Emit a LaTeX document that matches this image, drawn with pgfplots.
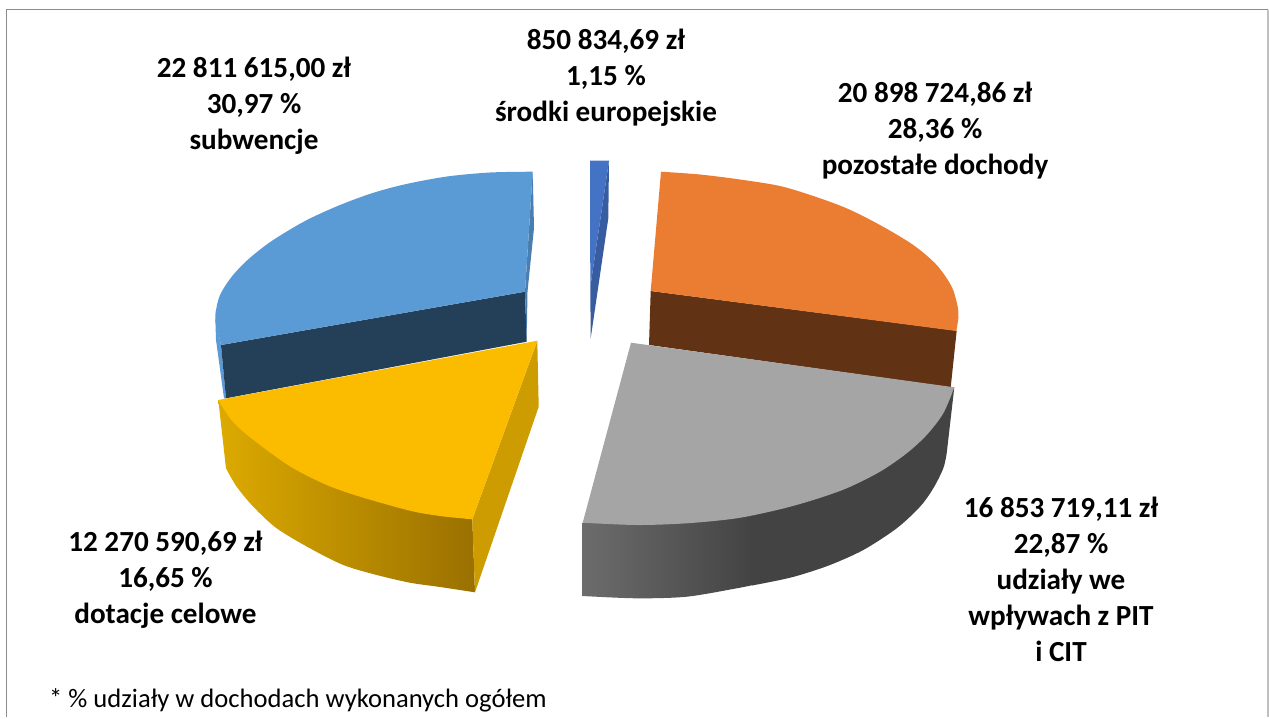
\documentclass[border=0pt]{standalone}
\usepackage{pgfplots}
\pgfplotsset{compat=1.18}
\usepackage{fontspec}
\setmainfont{Carlito}
\definecolor{bluetop}{HTML}{5B9BD5}
\definecolor{blueside}{HTML}{4A7EB0}
\definecolor{navy}{HTML}{243F58}
\definecolor{yeltop}{HTML}{FBBC00}
\definecolor{yelside}{HTML}{CC9C00}
\definecolor{yelL}{HTML}{DCAA00}
\definecolor{yelR}{HTML}{9A7000}
\definecolor{smalltop}{HTML}{4472C4}
\definecolor{smallside}{HTML}{375C9F}
\definecolor{ortop}{HTML}{EB7D32}
\definecolor{orin}{HTML}{613214}
\definecolor{graytop}{HTML}{A5A5A5}
\definecolor{grayL}{HTML}{6C6C6C}
\definecolor{grayR}{HTML}{434343}
\tikzset{lab/.style={font=\fontsize{29.15}{36}\selectfont\bfseries,align=center,text=black,inner sep=0pt}}
\begin{document}
\begin{tikzpicture}
\begin{axis}[width=1269pt,height=718pt,scale only axis,xmin=0,xmax=1269,ymin=0,ymax=718,y dir=reverse,
  axis lines=none,clip=true,
  every axis plot post/.append style={mark=none}]
% page extent
\addplot[draw=none,forget plot] coordinates {(0,0)(1269,718)};
% frame
\addplot[draw=black!45,line width=1.5pt] coordinates {(6.5,717)(6.5,9.5)(1268,9.5)};
\addplot[draw=black!25,line width=1.2pt] coordinates {(1268,9.5)(1268,717)};
% subwencje
\addplot[fill=bluetop,draw=none] coordinates {(215.3,318)(221,345)(226,398.3)(224,398.3)(216,340)} --cycle;
\addplot[fill=navy,draw=none] coordinates {(221,345)(525,291.7)(526.7,341.7)(226,398.3)} --cycle;
\addplot[fill=blueside,draw=none] coordinates {(532.7,171.7)(534,228)(527.5,291.7)(526.7,341.7)(525,291.7)} --cycle;
\addplot[fill=bluetop,draw=none,smooth] coordinates {(532.7,171.7)(490,172.5)(447,176.5)(405,184.3)(371.7,193.3)(338.3,205.7)(305,221)(271.7,241)(248.3,259.3)(231.7,276.7)(220,295)(215.7,311.7)(215.3,320)} -- (axis cs:221,345) -- (axis cs:525,291.7) --cycle;
% dotacje
\addplot[left color=yelL,right color=yelR,draw=none,smooth] coordinates {(226,468.3)(236.7,486.7)(253.3,506.7)(276.7,528.3)(310,548.3)(343.3,565)(376.7,575)(410,582.7)(440,587)(475,592.3)} -- (axis cs:472.3,519.3) -- (axis cs:218.3,400) --cycle;
\addplot[fill=yelside,draw=none] coordinates {(537.3,340.7)(538.7,406.7)(475,592.3)(472.3,519.3)} --cycle;
\addplot[fill=yeltop,draw=none,smooth] coordinates {(218.3,400)(230,418.3)(243.3,431.7)(266.7,450)(293.3,468.3)(326.7,485)(360,496.7)(410,510.7)(440,516)(472.3,519.3)} -- (axis cs:537.3,340.7) --cycle;
% srodki europejskie
\addplot[fill=smallside,draw=none] coordinates {(609,160.7)(608.3,218.3)(590.7,338.3)(590.3,287)} --cycle;
\addplot[fill=smalltop,draw=none] coordinates {(590,160.7)(609,160.7)(590.3,287)} --cycle;
% pozostale
\addplot[fill=orin,draw=none] coordinates {(650.7,291)(956.7,330.7)(950.7,387.3)(649,345)} --cycle;
\addplot[fill=ortop,draw=none,smooth] coordinates {(661,171.7)(700,174.5)(740,179.5)(780,186)(813.3,196)(846.7,208.3)(880,225)(913.3,245)(936.7,265)(951.7,286.7)(957.7,306.7)(958.3,318.3)(956.3,331)} -- (axis cs:650.7,291) --cycle;
% udzialy
\addplot[left color=grayL,right color=grayR,draw=none,smooth] coordinates {(582.7,596)(636.7,598.3)(686.7,596.7)(736.7,588.3)(753,585)} -- (axis cs:753,500) -- (axis cs:582.7,522.7) --cycle;
\addplot[fill=grayR,draw=none,smooth] coordinates {(752,585.5)(780,580)(800,575)(830,565)(863.3,550)(896.7,528.3)(920,506.7)(933.3,488.3)(943.3,468.3)(946.7,453.3)} -- (axis cs:954.3,387.3) -- (axis cs:752,470) --cycle;
\addplot[fill=graytop,draw=none,smooth] coordinates {(954.3,387.3)(943.3,413.3)(926.7,435)(906.7,453.3)(880,471.7)(846.7,488.3)(813.3,500)(780,509.3)(736.7,518.3)(686.7,523.3)(636.7,525)(582.7,522.7)} -- (axis cs:631,342.7) --cycle;
% labels
\node[lab] at (axis cs:254,105.5) {22 811 615,00 zł\\30,97 \%\\subwencje};
\node[lab] at (axis cs:606,77.5) {850 834,69 zł\\1,15 \%\\środki europejskie};
\node[lab] at (axis cs:935,130.5) {20 898 724,86 zł\\28,36 \%\\pozostałe dochody};
\node[lab] at (axis cs:165.5,580) {12 270 590,69 zł\\16,65 \%\\dotacje celowe};
\node[lab] at (axis cs:1061,579) {16 853 719,11 zł\\22,87 \%\\udziały we\\wpływach z PIT\\i CIT};
\node[font=\fontsize{26.6}{30}\selectfont,anchor=west,inner sep=0pt] at (axis cs:49,700) {* \% udziały w dochodach wykonanych ogółem};
\end{axis}
\end{tikzpicture}
\end{document}
